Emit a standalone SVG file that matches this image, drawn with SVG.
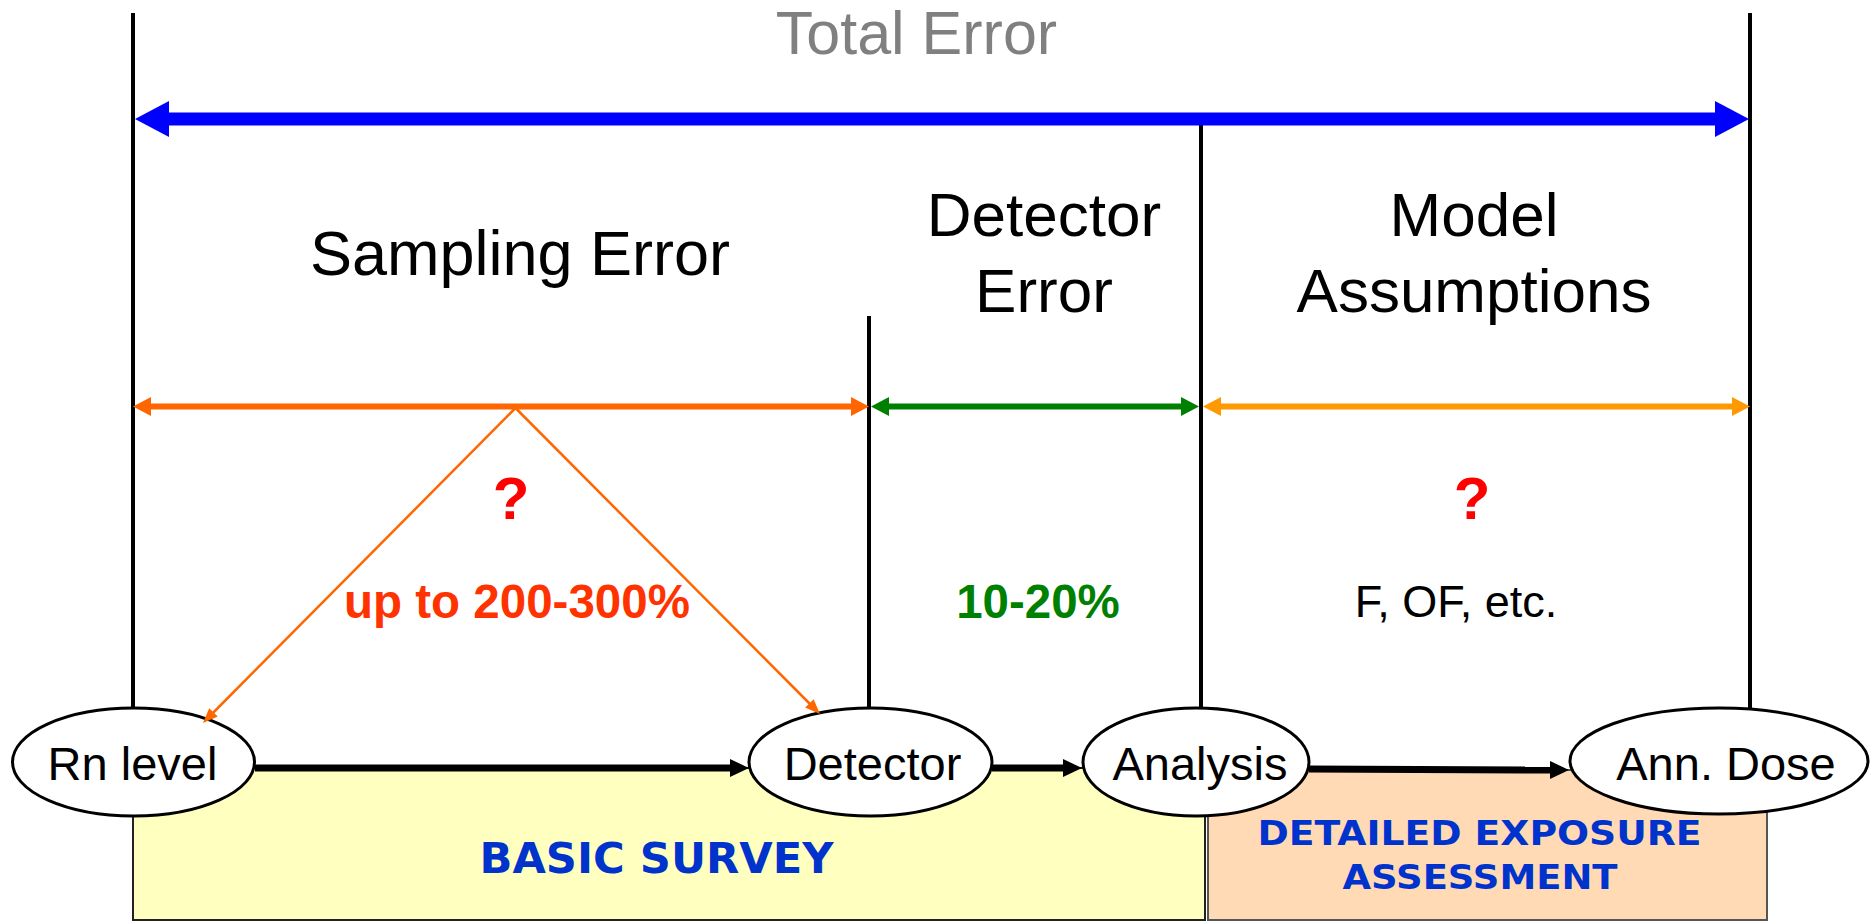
<svg xmlns="http://www.w3.org/2000/svg" width="1874" height="923" viewBox="0 0 1874 923">
<style>
.sans{font-family:"Liberation Sans",Arial,sans-serif;}
.verd{font-family:"DejaVu Sans",Verdana,sans-serif;font-weight:bold;fill:#0033CC;}
.node{fill:#fff;stroke:#000;stroke-width:3;}
.lbl{font-family:"Liberation Sans",Arial,sans-serif;font-size:47px;fill:#000;text-anchor:middle;}
.div{stroke:#000;stroke-width:4;}
.flow{stroke:#000;stroke-width:7;fill:none;}
</style>
<defs>
<marker id="mBlue" markerUnits="userSpaceOnUse" markerWidth="34" markerHeight="36" refX="5" refY="18" orient="auto-start-reverse"><path d="M0,0 L34,18 L0,36 z" fill="#0000FF"/></marker>
<marker id="mOrange" markerUnits="userSpaceOnUse" markerWidth="18" markerHeight="19" refX="4" refY="9.5" orient="auto-start-reverse"><path d="M0,0 L18,9.5 L0,19 z" fill="#FF6600"/></marker>
<marker id="mGreen" markerUnits="userSpaceOnUse" markerWidth="18" markerHeight="19" refX="4" refY="9.5" orient="auto-start-reverse"><path d="M0,0 L18,9.5 L0,19 z" fill="#008000"/></marker>
<marker id="mLight" markerUnits="userSpaceOnUse" markerWidth="18" markerHeight="19" refX="4" refY="9.5" orient="auto-start-reverse"><path d="M0,0 L18,9.5 L0,19 z" fill="#FF9900"/></marker>
<marker id="mBlack" markerUnits="userSpaceOnUse" markerWidth="19" markerHeight="18" refX="4" refY="9" orient="auto"><path d="M0,0 L19,9 L0,18 z" fill="#000"/></marker>
<marker id="mThin" markerUnits="userSpaceOnUse" markerWidth="15" markerHeight="12" refX="3" refY="6" orient="auto"><path d="M0,0 L15,6 L0,12 z" fill="#FF6600"/></marker>
</defs>
<rect width="1874" height="923" fill="#fff"/>

<g id="basic-survey">
<rect x="133" y="768" width="1072" height="152" fill="#FFFFC0" stroke="#222" stroke-width="2"/>
<text class="verd" x="656.5" y="873" font-size="42" text-anchor="middle" textLength="354" lengthAdjust="spacingAndGlyphs">BASIC SURVEY</text>
</g>
<g id="detailed-exposure">
<rect x="1208" y="770" width="559" height="150" fill="#FFDAB5" stroke="#555" stroke-width="2"/>
<text class="verd" x="1479.5" y="845" font-size="34" text-anchor="middle" textLength="444" lengthAdjust="spacingAndGlyphs">DETAILED EXPOSURE</text>
<text class="verd" x="1480" y="889" font-size="34" text-anchor="middle" textLength="275" lengthAdjust="spacingAndGlyphs">ASSESSMENT</text>
</g>

<g id="dividers">
<line class="div" x1="133" y1="13" x2="133" y2="708"/>
<line class="div" x1="1750" y1="13" x2="1750" y2="709"/>
<line class="div" x1="869" y1="316" x2="869" y2="708"/>
<line class="div" x1="1201" y1="125" x2="1201" y2="708"/>
</g>

<g id="titles" class="sans" text-anchor="middle">
<text x="916.5" y="54" font-size="61" fill="#808080">Total Error</text>
<text x="520" y="275" font-size="63">Sampling Error</text>
<text x="1044" y="236" font-size="62">Detector</text>
<text x="1044" y="312" font-size="62">Error</text>
<text x="1474" y="236" font-size="62">Model</text>
<text x="1474" y="312" font-size="62">Assumptions</text>
<text x="511" y="519" font-size="60" font-weight="bold" fill="#FF0000">?</text>
<text x="1472" y="519" font-size="60" font-weight="bold" fill="#FF0000">?</text>
<text x="517" y="618" font-size="47.5" font-weight="bold" fill="#FF3300">up to 200-300%</text>
<text x="1038" y="618" font-size="47.5" font-weight="bold" fill="#008000">10-20%</text>
<text x="1456" y="617" font-size="45">F, OF, etc.</text>
</g>

<g id="node-rn">
<ellipse class="node" cx="133.5" cy="762" rx="121" ry="54"/>
<text class="lbl" x="132.5" y="780">Rn level</text>
</g>
<g id="node-detector">
<ellipse class="node" cx="870.5" cy="762" rx="121.5" ry="54"/>
<text class="lbl" x="872.5" y="780">Detector</text>
</g>
<g id="node-analysis">
<ellipse class="node" cx="1196" cy="762" rx="113" ry="54"/>
<text class="lbl" x="1200" y="780">Analysis</text>
</g>
<g id="node-dose">
<ellipse class="node" cx="1719" cy="761" rx="149" ry="53"/>
<text class="lbl" x="1726" y="780">Ann. Dose</text>
</g>

<g id="connectors">
<line x1="164" y1="119" x2="1720" y2="119" stroke="#0000FF" stroke-width="13" marker-start="url(#mBlue)" marker-end="url(#mBlue)"/>
<line x1="147" y1="406.5" x2="855" y2="406.5" stroke="#FF6600" stroke-width="6" marker-start="url(#mOrange)" marker-end="url(#mOrange)"/>
<line x1="885" y1="406.5" x2="1185" y2="406.5" stroke="#008000" stroke-width="6" marker-start="url(#mGreen)" marker-end="url(#mGreen)"/>
<line x1="1217" y1="406.5" x2="1736" y2="406.5" stroke="#FF9900" stroke-width="6" marker-start="url(#mLight)" marker-end="url(#mLight)"/>
<line x1="515.5" y1="408" x2="211.4" y2="714.5" stroke="#FF6600" stroke-width="2.5" marker-end="url(#mThin)"/>
<line x1="515.5" y1="408" x2="811.5" y2="705.5" stroke="#FF6600" stroke-width="2.5" marker-end="url(#mThin)"/>
<line class="flow" x1="255" y1="768" x2="734" y2="768" marker-end="url(#mBlack)"/>
<line class="flow" x1="992" y1="768" x2="1067" y2="768" marker-end="url(#mBlack)"/>
<line class="flow" x1="1309" y1="769" x2="1554" y2="770" marker-end="url(#mBlack)"/>
</g>
</svg>
